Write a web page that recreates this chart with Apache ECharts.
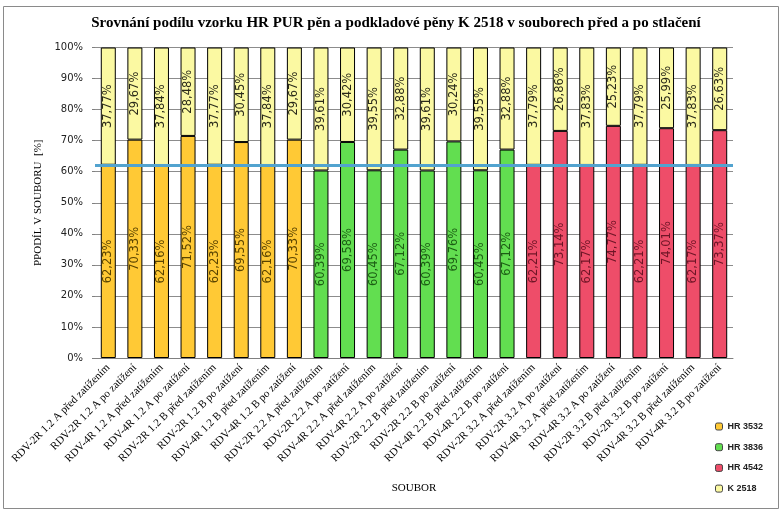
<!DOCTYPE html>
<html>
<head>
<meta charset="utf-8">
<script src="https://cdn.jsdelivr.net/npm/echarts@6/dist/echarts.min.js"></script>
<style>html,body{margin:0;padding:0;background:#fff;}#c{width:783px;height:516px;}</style>
</head>
<body>
<div id="c"></div>
<script>
const categories = [
  'RDV-2R 1.2 A před zatížením','RDV-2R 1.2 A po zatížení','RDV-4R 1.2 A před zatížením','RDV-4R 1.2 A po zatížení',
  'RDV-2R 1.2 B před zatížením','RDV-2R 1.2 B po zatížení','RDV-4R 1.2 B před zatížením','RDV-4R 1.2 B po zatížení',
  'RDV-2R 2.2 A před zatížením','RDV-2R 2.2 A po zatížení','RDV-4R 2.2 A před zatížením','RDV-4R 2.2 A po zatížení',
  'RDV-2R 2.2 B před zatížením','RDV-2R 2.2 B po zatížení','RDV-4R 2.2 B před zatížením','RDV-4R 2.2 B po zatížení',
  'RDV-2R 3.2 A před zatížením','RDV-2R 3.2 A po zatížení','RDV-4R 3.2 A před zatížením','RDV-4R 3.2 A po zatížení',
  'RDV-2R 3.2 B před zatížením','RDV-2R 3.2 B po zatížení','RDV-4R 3.2 B před zatížením','RDV-4R 3.2 B po zatížení'
];
const hr3532 = [62.23,70.33,62.16,71.52,62.23,69.55,62.16,70.33,'-','-','-','-','-','-','-','-','-','-','-','-','-','-','-','-'];
const hr3836 = ['-','-','-','-','-','-','-','-',60.39,69.58,60.45,67.12,60.39,69.76,60.45,67.12,'-','-','-','-','-','-','-','-'];
const hr4542 = ['-','-','-','-','-','-','-','-','-','-','-','-','-','-','-','-',62.21,73.14,62.17,74.77,62.21,74.01,62.17,73.37];
const k2518 = [37.77,29.67,37.84,28.48,37.77,30.45,37.84,29.67,39.61,30.42,39.55,32.88,39.61,30.24,39.55,32.88,37.79,26.86,37.83,25.23,37.79,25.99,37.83,26.63];
const refLine = 62;
const yTicks = {min: 0, max: 100, interval: 10};

const fmt = p => (typeof p.value === 'number') ? p.value.toFixed(2).replace('.', ',') + '%' : '';
function barSeries(name, data, color, labelColor) {
  return {
    name: name, type: 'bar', stack: 'total', data: data, barWidth: 15,
    itemStyle: {color: color, borderColor: '#000', borderWidth: 1},
    label: {show: true, position: 'inside', rotate: 90, formatter: fmt,
      fontFamily: 'DejaVu Sans', fontSize: 11.5, color: labelColor},
    emphasis: {disabled: true}
  };
}
const kSeries = barSeries('K 2518', k2518, '#FBF9A2', '#2a2a1a');
kSeries.markLine = {
  silent: true, symbol: 'none', label: {show: false},
  lineStyle: {color: '#52A3CF', width: 3, type: 'solid'},
  data: [{yAxis: refLine}]
};

const chart = echarts.init(document.getElementById('c'), null, {renderer: 'canvas'});
chart.setOption({
  animation: false,
  backgroundColor: '#fff',
  graphic: [{type: 'rect', shape: {x: 3.5, y: 6.5, width: 775, height: 502},
    style: {fill: 'none', stroke: '#8a8a8a', lineWidth: 1}, z: -1}],
  title: {
    text: 'Srovnání podílu vzorku HR PUR pěn a podkladové pěny K 2518 v souborech před a po stlačení',
    left: 391, textAlign: 'center', top: 11,
    textStyle: {fontFamily: 'Liberation Serif', fontWeight: 'bold', fontSize: 15, color: '#000'}
  },
  legend: {
    orient: 'vertical', left: 710, top: 416,
    itemWidth: 7, itemHeight: 7, itemGap: 9.7,
    data: ['HR 3532', 'HR 3836', 'HR 4542', 'K 2518'],
    textStyle: {fontFamily: 'Liberation Sans', fontWeight: 'bold', fontSize: 9, color: '#222', lineHeight: 11},
    itemStyle: {borderColor: '#444', borderWidth: 1}
  },
  grid: {left: 95, right: 50, top: 47.5, bottom: 158, containLabel: false},
  xAxis: {
    type: 'category', data: categories,
    name: 'SOUBOR', nameLocation: 'middle', nameGap: 125,
    nameTextStyle: {fontFamily: 'Liberation Serif', fontSize: 11, color: '#000'},
    axisLine: {lineStyle: {color: '#808080'}},
    axisTick: {show: false},
    axisLabel: {rotate: 45, interval: 0, margin: 8, fontFamily: 'Liberation Serif', fontSize: 11, color: '#000'}
  },
  yAxis: {
    type: 'value', min: yTicks.min, max: yTicks.max, interval: yTicks.interval,
    name: 'PPODÍL V SOUBORU  [%]', nameLocation: 'middle', nameGap: 46, nameRotate: 90,
    nameTextStyle: {fontFamily: 'Liberation Serif', fontSize: 11, color: '#000'},
    axisLine: {show: false},
    axisTick: {show: true, length: 3, lineStyle: {color: '#808080'}},
    axisLabel: {formatter: '{value}%', margin: 12, fontFamily: 'DejaVu Sans', fontSize: 10, color: '#222'},
    splitLine: {lineStyle: {color: '#8c8c8c', width: 1}}
  },
  series: [
    barSeries('HR 3532', hr3532, '#FFC935', '#5a4400'),
    barSeries('HR 3836', hr3836, '#62DE50', '#1c5e14'),
    barSeries('HR 4542', hr4542, '#EE4D69', '#6e1526'),
    kSeries
  ]
});
</script>
</body>
</html>
